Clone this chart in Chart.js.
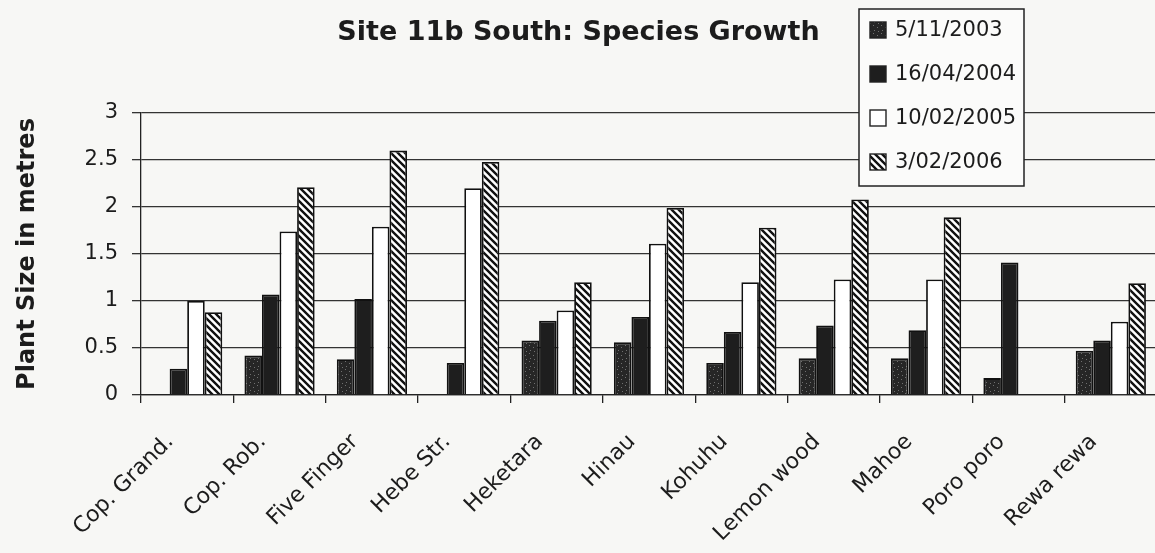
<!DOCTYPE html>
<html>
<head>
<meta charset="utf-8">
<title>Site 11b South: Species Growth</title>
<script src="https://cdn.jsdelivr.net/npm/chart.js@4.4.1/dist/chart.umd.min.js"></script>
<style>
  html, body { margin: 0; padding: 0; background: #f7f7f5; overflow: hidden; }
  #wrap { position: relative; width: 1155px; height: 553px; overflow: hidden; }
  #chart { position: absolute; left: 0; top: 0; }
</style>
</head>
<body>
<div id="wrap"><canvas id="chart" width="1165" height="553"></canvas></div>
<script>
// Data (metres)
const species = ["Cop. Grand.", "Cop. Rob.", "Five Finger", "Hebe Str.", "Heketara", "Hinau", "Kohuhu", "Lemon wood", "Mahoe", "Poro poro", "Rewa rewa"];
const surveyDates = ["5/11/2003", "16/04/2004", "10/02/2005", "3/02/2006"];
const size2003 = [null, 0.42, 0.38, null, 0.58, 0.56, 0.34, 0.39, 0.39, 0.18, 0.47];
const size2004 = [0.28, 1.07, 1.02, 0.34, 0.79, 0.83, 0.67, 0.74, 0.69, 1.41, 0.58];
const size2005 = [1.0, 1.74, 1.79, 2.2, 0.9, 1.61, 1.2, 1.23, 1.23, null, 0.78];
const size2006 = [0.88, 2.21, 2.6, 2.48, 1.2, 1.99, 1.78, 2.08, 1.89, null, 1.19];
const yTicks = [0, 0.5, 1, 1.5, 2, 2.5, 3];

const FONT = "'DejaVu Sans', 'Liberation Sans', sans-serif";
const INK = "#1c1c1c";

// near-black with a few light specks (first survey)
function stipple() {
  const c = document.createElement("canvas");
  c.width = 8; c.height = 8;
  const g = c.getContext("2d");
  g.fillStyle = "#262626";
  g.fillRect(0, 0, 8, 8);
  g.fillStyle = "#707070";
  [[1, 1], [5, 3], [2, 6], [6, 7]].forEach(([x, y]) => g.fillRect(x, y, 1, 1));
  return g.createPattern(c, "repeat");
}

// "\" diagonal hatching (last survey)
function hatch() {
  const s = 7;
  const c = document.createElement("canvas");
  c.width = s; c.height = s;
  const g = c.getContext("2d");
  g.fillStyle = "#ffffff";
  g.fillRect(0, 0, s, s);
  g.strokeStyle = "#111";
  g.lineWidth = 2.4;
  g.beginPath();
  g.moveTo(-1, -1); g.lineTo(s + 1, s + 1);
  g.moveTo(-1, s - 1); g.lineTo(1, s + 1);
  g.moveTo(s - 1, -1); g.lineTo(s + 1, 1);
  g.stroke();
  return g.createPattern(c, "repeat");
}

const fills = [stipple(), "#1e1e1e", "#ffffff", hatch()];
const series = [size2003, size2004, size2005, size2006];

// boxed legend sitting over the top-right of the plot
const boxLegend = {
  id: "boxLegend",
  afterDraw(chart) {
    const ctx = chart.ctx;
    const x = 859, y = 9, w = 165, h = 177;
    ctx.save();
    ctx.fillStyle = "#fbfbfa";
    ctx.fillRect(x, y, w, h);
    ctx.strokeStyle = "#222";
    ctx.lineWidth = 1.5;
    ctx.strokeRect(x, y, w, h);
    ctx.font = "21px " + FONT;
    ctx.textBaseline = "middle";
    chart.data.datasets.forEach((ds, i) => {
      const cy = y + 21 + i * 44;
      ctx.fillStyle = ds.backgroundColor;
      ctx.fillRect(x + 11, cy - 8, 16, 16);
      ctx.lineWidth = 1.4;
      ctx.strokeRect(x + 11, cy - 8, 16, 16);
      ctx.fillStyle = INK;
      ctx.fillText(ds.label, x + 36, cy + 1);
    });
    ctx.restore();
  }
};

new Chart(document.getElementById("chart"), {
  type: "bar",
  data: {
    labels: species,
    datasets: surveyDates.map((d, i) => ({
      label: d,
      data: series[i],
      backgroundColor: fills[i],
      borderColor: "#111",
      borderWidth: 1.8
    }))
  },
  options: {
    responsive: false,
    animation: false,
    layout: { padding: { left: 0, right: 8, top: 0, bottom: 0 } },
    datasets: { bar: { barPercentage: 1, categoryPercentage: 0.76 } },
    plugins: {
      legend: { display: false },
      tooltip: { enabled: false },
      title: {
        display: true,
        text: "Site 11b South: Species Growth",
        color: INK,
        font: { family: FONT, size: 27, weight: "bold", lineHeight: 1.2 },
        padding: { top: 17, bottom: 63.6 }
      }
    },
    scales: {
      x: {
        grid: { display: true, drawOnChartArea: false, drawTicks: true, tickLength: 8, color: "#222", lineWidth: 1.3 },
        border: { display: true, color: "#222", width: 1.3 },
        ticks: {
          maxRotation: 45, minRotation: 45, autoSkip: false,
          color: INK, padding: 26, labelOffset: -17,
          font: { family: FONT, size: 22 }
        },
        afterFit: s => { s.height = 158; }
      },
      y: {
        min: 0,
        max: 3,
        afterBuildTicks: s => { s.ticks = yTicks.map(v => ({ value: v })); },
        ticks: {
          callback: v => String(v),
          color: INK, padding: 14,
          font: { family: FONT, size: 21 }
        },
        grid: { color: "#333", lineWidth: 1.3, tickLength: 9 },
        border: { color: "#222", width: 1.3 },
        title: {
          display: true,
          text: "Plant Size in metres",
          color: INK,
          font: { family: FONT, size: 24, weight: "bold", lineHeight: 1.2 },
          padding: { top: 13, bottom: 0 }
        },
        afterFit: s => { s.width = 141; }
      }
    }
  },
  plugins: [boxLegend]
});
</script>
</body>
</html>
